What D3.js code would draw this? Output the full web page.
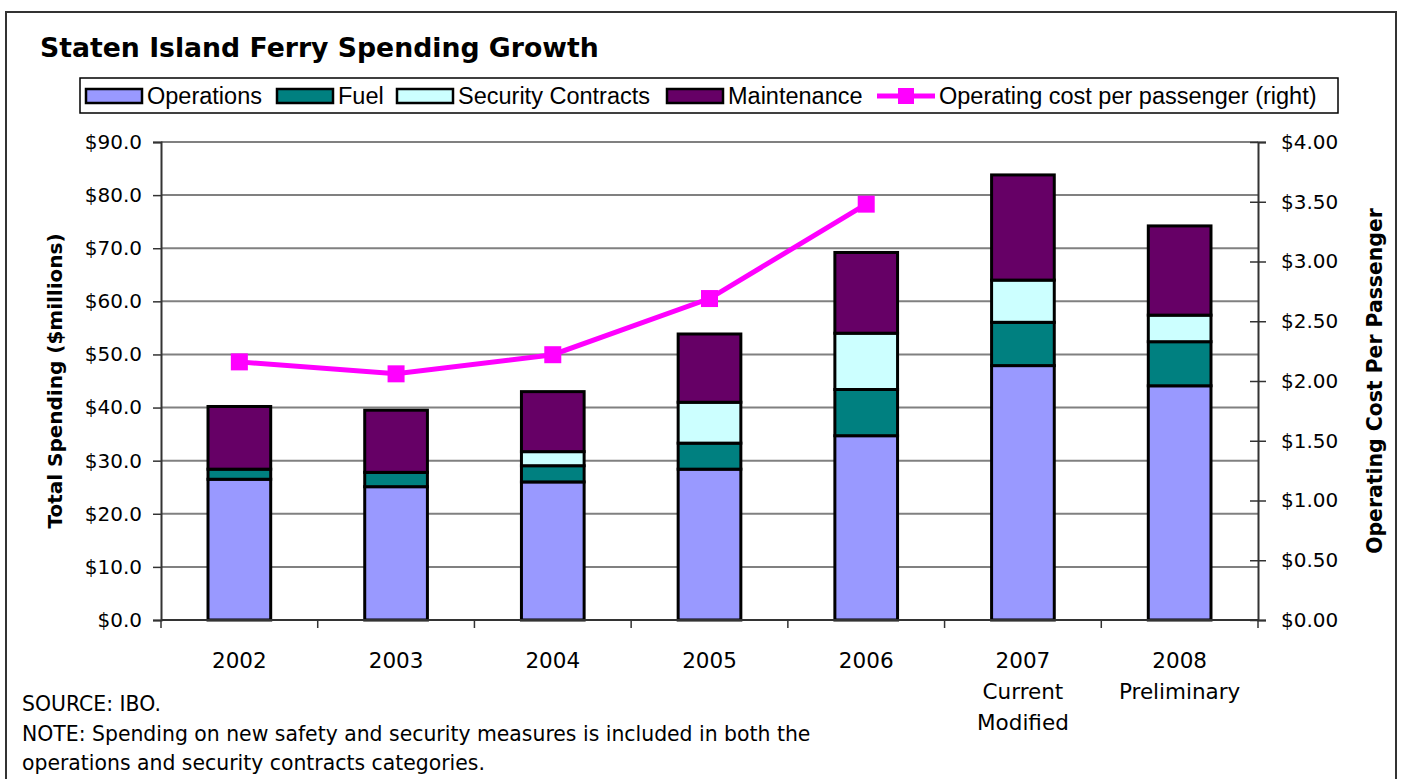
<!DOCTYPE html>
<html>
<head>
<meta charset="utf-8">
<script src="https://cdn.jsdelivr.net/npm/d3@7"></script>
<style>
  body { margin: 0; background: #fff; }
  text { font-family: "DejaVu Sans", sans-serif; fill: #000; }
  text.legend-label { font-family: "Liberation Sans", Arial, sans-serif; }
</style>
</head>
<body>
<script>
const WIDTH = 1402;
const HEIGHT = 779;
const PLOT_LEFT = 161;
const PLOT_RIGHT = 1258;
const PLOT_TOP = 142;
const PLOT_BOTTOM = 620;

// data
var years = ["2002", "2003", "2004", "2005", "2006", "2007", "2008"];
var yearLabels = [["2002"], ["2003"], ["2004"], ["2005"], ["2006"], ["2007", "Current", "Modified"], ["2008", "Preliminary"]];
var operations = [26.5, 25.1, 26.0, 28.4, 34.7, 47.9, 44.1];
var fuel = [1.9, 2.7, 3.05, 4.9, 8.7, 8.15, 8.3];
var security = [0, 0, 2.65, 7.7, 10.6, 7.95, 5.0];
var maintenance = [11.8, 11.7, 11.3, 12.85, 15.2, 19.8, 16.8];
var costPerPassenger = [2.16, 2.06, 2.22, 2.69, 3.48, null, null];

var leftTicks = [0, 10, 20, 30, 40, 50, 60, 70, 80, 90];
var rightTicks = [0, 0.5, 1, 1.5, 2, 2.5, 3, 3.5, 4];

var seriesNames = ["Operations", "Fuel", "Security Contracts", "Maintenance"];
var seriesColors = ["#9999ff", "#008080", "#ccffff", "#660066"];
var lineName = "Operating cost per passenger (right)";
var lineColor = "#ff00ff";

var drawChart = function(){
	var svg = d3.select('body')
		.append('svg')
		.attr('width', WIDTH)
		.attr('height', HEIGHT);

	// outer frame
	svg.append('rect')
		.attr('x', 6).attr('y', 12)
		.attr('width', 1390).attr('height', 780)
		.attr('fill', 'none')
		.attr('stroke', '#333')
		.attr('stroke-width', 2);

	svg.append('text')
		.attr('x', 40).attr('y', 57)
		.attr('font-size', 26.7)
		.attr('font-weight', 'bold')
		.text('Staten Island Ferry Spending Growth');

	var xScale = d3.scaleBand().domain(years).range([PLOT_LEFT, PLOT_RIGHT]).paddingInner(0.6).paddingOuter(0.3);
	var xOuter = d3.scaleBand().domain(years).range([PLOT_LEFT, PLOT_RIGHT]);
	var yScale = d3.scaleLinear().domain([0, 90]).range([PLOT_BOTTOM, PLOT_TOP]);
	var yRight = d3.scaleLinear().domain([0, 4]).range([PLOT_BOTTOM, PLOT_TOP]);

	// gridlines
	svg.append('g').selectAll('line')
		.data(leftTicks.slice(1))
		.enter().append('line')
		.attr('x1', PLOT_LEFT).attr('x2', PLOT_RIGHT)
		.attr('y1', function(d){ return yScale(d); })
		.attr('y2', function(d){ return yScale(d); })
		.attr('stroke', '#808080')
		.attr('stroke-width', 2);

	// left axis
	var yAxis = d3.axisLeft(yScale).tickValues(leftTicks)
		.tickFormat(function(d){ return '$' + d3.format('.1f')(d); })
		.tickSize(8).tickPadding(11);
	var gl = svg.append('g')
		.attr('transform', 'translate(' + PLOT_LEFT + ',0)')
		.call(yAxis);

	// right axis with crossing ticks
	var yAxisRight = d3.axisRight(yRight).tickValues(rightTicks)
		.tickFormat(function(d){ return '$' + d3.format('.2f')(d); })
		.tickSize(8).tickPadding(15);
	var gr = svg.append('g')
		.attr('transform', 'translate(' + PLOT_RIGHT + ',0)')
		.call(yAxisRight);
	gr.selectAll('.tick line').attr('x1', -8);

	[gl, gr].forEach(function(g){
		g.select('.domain').attr('stroke', '#333').attr('stroke-width', 2);
		g.selectAll('.tick line').attr('stroke', '#333').attr('stroke-width', 1.5);
		g.selectAll('.tick text').attr('font-size', 20).attr('fill', '#000');
	});

	// stacked bars
	var table = years.map(function(y, i){
		return {year: y, Operations: operations[i], Fuel: fuel[i], 'Security Contracts': security[i], Maintenance: maintenance[i]};
	});
	var stacked = d3.stack().keys(seriesNames)(table);

	svg.append('g').selectAll('g')
		.data(stacked)
		.enter().append('g')
		.attr('fill', function(d, i){ return seriesColors[i]; })
		.selectAll('rect')
		.data(function(d){ return d; })
		.enter().append('rect')
		.attr('x', function(d){ return xScale(d.data.year); })
		.attr('width', xScale.bandwidth())
		.attr('y', function(d){ return yScale(d[1]); })
		.attr('height', function(d){ return yScale(d[0]) - yScale(d[1]); })
		.attr('stroke', '#000')
		.attr('stroke-width', 3);

	// bottom axis
	var gb = svg.append('g');
	gb.append('line')
		.attr('x1', PLOT_LEFT).attr('x2', PLOT_RIGHT)
		.attr('y1', PLOT_BOTTOM).attr('y2', PLOT_BOTTOM)
		.attr('stroke', '#333').attr('stroke-width', 2);
	gb.selectAll('line.tick')
		.data(years.concat(['end']))
		.enter().append('line')
		.attr('class', 'tick')
		.attr('x1', function(d){ return d === 'end' ? PLOT_RIGHT : xOuter(d); })
		.attr('x2', function(d){ return d === 'end' ? PLOT_RIGHT : xOuter(d); })
		.attr('y1', PLOT_BOTTOM).attr('y2', PLOT_BOTTOM + 8)
		.attr('stroke', '#333').attr('stroke-width', 1.5);

	var labels = gb.selectAll('text.cat')
		.data(years)
		.enter().append('text')
		.attr('class', 'cat')
		.attr('text-anchor', 'middle')
		.attr('font-size', 21.5)
		.attr('x', function(d){ return xScale(d) + xScale.bandwidth()/2; })
		.attr('y', 668);
	labels.selectAll('tspan')
		.data(function(d, i){ return yearLabels[i]; })
		.enter().append('tspan')
		.attr('x', function(){ return this.parentNode.getAttribute('x'); })
		.attr('dy', function(d, i){ return i === 0 ? 0 : 31; })
		.text(function(d){ return d; });

	// line on right axis
	var pts = years.map(function(y, i){ return {year: y, v: costPerPassenger[i]}; })
		.filter(function(d){ return d.v !== null; });
	var line = d3.line()
		.x(function(d){ return xScale(d.year) + xScale.bandwidth()/2; })
		.y(function(d){ return yRight(d.v); });
	svg.append('path')
		.attr('d', line(pts))
		.attr('fill', 'none')
		.attr('stroke', lineColor)
		.attr('stroke-width', 5);
	svg.append('g').selectAll('rect')
		.data(pts)
		.enter().append('rect')
		.attr('x', function(d){ return xScale(d.year) + xScale.bandwidth()/2 - 8.5; })
		.attr('y', function(d){ return yRight(d.v) - 8.5; })
		.attr('width', 17).attr('height', 17)
		.attr('fill', lineColor);

	// axis titles
	svg.append('text')
		.attr('transform', 'translate(62,381) rotate(-90)')
		.attr('text-anchor', 'middle')
		.attr('font-size', 20)
		.attr('font-weight', 'bold')
		.text('Total Spending ($millions)');
	svg.append('text')
		.attr('transform', 'translate(1382,381) rotate(-90)')
		.attr('text-anchor', 'middle')
		.attr('font-size', 20.4)
		.attr('font-weight', 'bold')
		.text('Operating Cost Per Passenger');

	// legend
	var legend = svg.append('g');
	legend.append('rect')
		.attr('x', 80).attr('y', 78)
		.attr('width', 1258).attr('height', 35)
		.attr('fill', '#fff').attr('stroke', '#000').attr('stroke-width', 1.5);
	var legendX = [86, 277, 397, 667];
	seriesNames.forEach(function(name, i){
		legend.append('rect')
			.attr('x', legendX[i]).attr('y', 89)
			.attr('width', 56).attr('height', 14)
			.attr('fill', seriesColors[i]).attr('stroke', '#000').attr('stroke-width', 2.5);
		legend.append('text')
			.attr('class', 'legend-label')
			.attr('x', legendX[i] + 61).attr('y', 104)
			.attr('font-size', 23.5)
			.text(name);
	});
	legend.append('line')
		.attr('x1', 877).attr('x2', 935).attr('y1', 96).attr('y2', 96)
		.attr('stroke', lineColor).attr('stroke-width', 5);
	legend.append('rect')
		.attr('x', 898).attr('y', 88).attr('width', 16).attr('height', 16)
		.attr('fill', lineColor);
	legend.append('text')
		.attr('class', 'legend-label')
		.attr('x', 939).attr('y', 104)
		.attr('font-size', 23.5)
		.text(lineName);

	// notes
	var notes = ["SOURCE: IBO.", "NOTE: Spending on new safety and security measures is included in both the", "operations and security contracts categories."];
	svg.append('g').selectAll('text')
		.data(notes)
		.enter().append('text')
		.attr('x', 22)
		.attr('y', function(d, i){ return 711 + i*29.5; })
		.attr('font-size', 20.4)
		.text(function(d){ return d; });
}

window.onload = function(){
	drawChart();
}
</script>
</body>
</html>
